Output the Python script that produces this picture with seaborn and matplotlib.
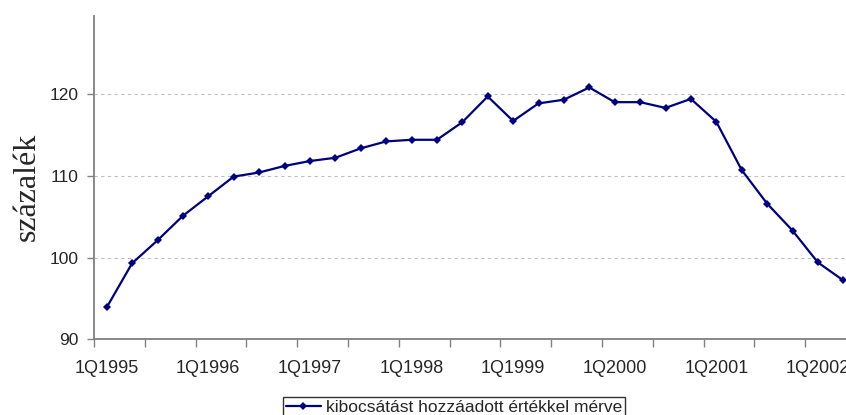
import matplotlib
matplotlib.use("Agg")
import matplotlib.pyplot as plt
import seaborn as sns
import pandas as pd
from matplotlib.ticker import FixedLocator

quarters = ["1Q1995", "2Q1995", "3Q1995", "4Q1995",
            "1Q1996", "2Q1996", "3Q1996", "4Q1996",
            "1Q1997", "2Q1997", "3Q1997", "4Q1997",
            "1Q1998", "2Q1998", "3Q1998", "4Q1998",
            "1Q1999", "2Q1999", "3Q1999", "4Q1999",
            "1Q2000", "2Q2000", "3Q2000", "4Q2000",
            "1Q2001", "2Q2001", "3Q2001", "4Q2001",
            "1Q2002", "2Q2002"]
values = [93.9, 99.3, 102.1, 105.1, 107.5, 109.9, 110.4, 111.2,
          111.8, 112.2, 113.35, 114.2, 114.4, 114.4, 116.55, 119.7,
          116.7, 118.85, 119.3, 120.8, 119.0, 119.0, 118.3, 119.4,
          116.6, 110.7, 106.6, 103.3, 99.4, 97.2]
series_name = "kibocsátást hozzáadott értékkel mérve"
y_label = "százalék"
y_ticks = [90, 100, 110, 120]

df = pd.DataFrame({"pos": range(len(quarters)), "quarter": quarters,
                   "value": values, "series": series_name})

sns.set_theme(style="white")
plt.rcParams["font.family"] = ["Liberation Sans", "DejaVu Sans"]

fig = plt.figure(figsize=(8.46, 4.15), dpi=100)
ax = fig.add_axes([94 / 846, 1 - 339.3 / 415, 1 - 94 / 846, (339.3 - 16) / 415])

sns.lineplot(data=df, x="pos", y="value", hue="series", palette=["#000080"],
             marker="D", markersize=4.5, markeredgewidth=0, linewidth=1.6,
             ax=ax, legend=True, clip_on=False)

ax.set_xlim(-0.5, -0.5 + 752 / 25.4)
ax.set_ylim(90, 90 + (339.3 - 16) / 8.177)

# y axis
ax.set_yticks(y_ticks)
ax.set_yticklabels([str(v) for v in y_ticks])
ax.yaxis.grid(True, color="#c0c0c0", linestyle=(0, (3, 3)), linewidth=0.8)
ax.xaxis.grid(False)
ax.tick_params(axis="y", which="major", length=5, width=1, color="#808080",
               labelsize=12.5, pad=6, left=True)

# x axis: labels at every 4th category, tick marks at every 2nd boundary
label_pos = [i for i, q in enumerate(quarters) if q.startswith("1Q")]
ax.xaxis.set_major_locator(FixedLocator(label_pos))
ax.set_xticklabels([quarters[i] for i in label_pos])
boundaries = [b - 0.5 for b in range(0, len(quarters) + 1, 2)]
ax.xaxis.set_minor_locator(FixedLocator(boundaries))
ax.tick_params(axis="x", which="major", length=0, labelsize=13, pad=15)
ax.tick_params(axis="x", which="minor", length=6, width=1, color="#808080",
               bottom=True)

for s in ["top", "right"]:
    ax.spines[s].set_visible(False)
for s in ["left", "bottom"]:
    ax.spines[s].set_color("#808080")
    ax.spines[s].set_linewidth(1.3)

ax.set_xlabel("")
ax.set_ylabel(y_label, fontsize=23, family=["Liberation Serif", "DejaVu Serif"])
ax.yaxis.set_label_coords(-94 / 846 + 27 / 846, (339.3 - 187) / (339.3 - 16),
                          transform=None)
ax.yaxis.label.set_transform(fig.transFigure)
ax.yaxis.label.set_position((27 / 846, 1 - 187 / 415))
ax.yaxis.label.set_verticalalignment("center")

handles, labels = ax.get_legend_handles_labels()
leg = ax.legend(handles, labels, loc="upper center",
                bbox_to_anchor=(454 / 846, 1 - 397 / 415),
                bbox_transform=fig.transFigure, frameon=True, fancybox=False,
                edgecolor="black", fontsize=12.5, handlelength=2.0,
                handletextpad=0.3, borderpad=0.15, borderaxespad=0)
leg.get_frame().set_linewidth(1.0)

fig.savefig("out.png", dpi=100, facecolor="white")
